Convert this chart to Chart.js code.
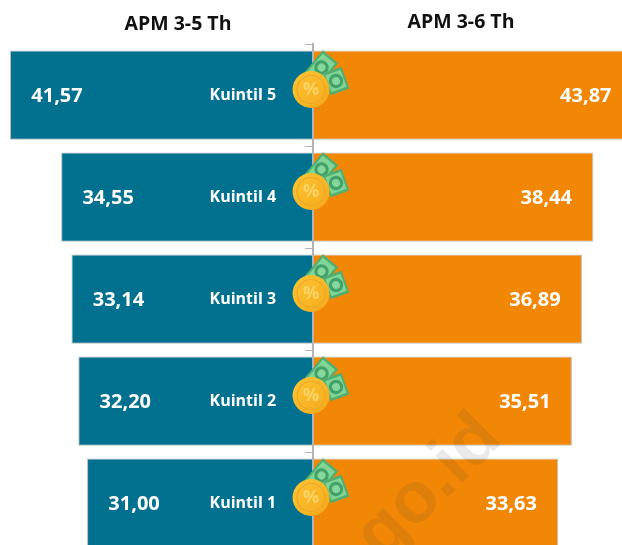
<!DOCTYPE html>
<html><head><meta charset="utf-8">
<script src="https://cdn.jsdelivr.net/npm/chart.js@4"></script>
<style>html,body{margin:0;padding:0;background:#fff;overflow:hidden;width:622px;height:545px}
#w{position:absolute;left:0;top:0;width:680px;height:600px}</style>
</head><body><div id="w"><canvas id="c"></canvas></div>
<script>
const categories=["Kuintil 5","Kuintil 4","Kuintil 3","Kuintil 2","Kuintil 1"];
const apm35=[41.57,34.55,33.14,32.20,31.00];
const apm36=[43.87,38.44,36.89,35.51,33.63];
const seriesTitles=["APM 3-5 Th","APM 3-6 Th"];
const watermark="bps.go.id";
const fmt=v=>Math.abs(v).toFixed(2).replace(".",",");
const FONT='"Open Sans"';
function note(ctx,x,y,w,h,a){
  ctx.save();ctx.translate(x,y);ctx.rotate(a);
  ctx.fillStyle="#4fae70";ctx.fillRect(-w/2,-h/2,w,h);
  ctx.fillStyle="#7fd596";ctx.fillRect(-w/2+2.5,-h/2+2,w-5,h-4);
  ctx.fillStyle="#43a26a";ctx.beginPath();ctx.arc(0,0,h*0.36,0,7);ctx.fill();
  ctx.fillStyle="#86d79c";ctx.beginPath();ctx.arc(0,0,h*0.2,0,7);ctx.fill();
  ctx.restore();
}
function coin(ctx,x,y){
  note(ctx,x+10.5,y-22,28,20,130*Math.PI/180);
  note(ctx,x+25,y-8.5,23,20,70*Math.PI/180);
  const g=ctx.createLinearGradient(x-18,y-18,x+18,y+18);
  g.addColorStop(0,"#fcc633");g.addColorStop(1,"#f5a91a");
  ctx.fillStyle=g;ctx.beginPath();ctx.arc(x,y,18.5,0,7);ctx.fill();
  ctx.strokeStyle="#eda62a";ctx.lineWidth=1.2;ctx.beginPath();ctx.arc(x,y,14,0,7);ctx.stroke();
  ctx.fillStyle="#fbd468";ctx.font='bold 18px '+FONT;ctx.textAlign="center";ctx.textBaseline="middle";
  ctx.fillText("%",x,y);
}
const overlay={id:"overlay",afterDatasetsDraw(chart){
  const ctx=chart.ctx;
  ctx.save();
  ctx.textBaseline="middle";ctx.fillStyle="#fff";ctx.textAlign="center";
  ctx.font='bold 20px '+FONT;
  chart.getDatasetMeta(0).data.forEach((b,i)=>ctx.fillText(fmt(apm35[i]),b.x+47,b.y+1));
  chart.getDatasetMeta(1).data.forEach((b,i)=>ctx.fillText(fmt(apm36[i]),b.x-47,b.y+1));
  ctx.fillStyle="#111";ctx.font='bold 19.5px '+FONT;ctx.textAlign="center";
  ctx.fillText(seriesTitles[0],178,24);
  ctx.fillText(seriesTitles[1],461,22);
  ctx.translate(391,526);ctx.rotate(-Math.PI/4);
  ctx.fillStyle="rgba(60,60,60,0.11)";ctx.font='bold 72px "Liberation Sans"';ctx.textAlign="center";
  ctx.fillText(watermark,-20,0);
  ctx.restore();
},afterDraw(chart){
  const ctx=chart.ctx,xs=chart.scales.x;
  ctx.save();
  chart.getDatasetMeta(0).data.forEach(b=>coin(ctx,xs.getPixelForValue(0)-2,b.y-5.5));
  ctx.restore();
}};
new Chart(document.getElementById("c"),{
  type:"bar",
  data:{labels:categories,datasets:[
    {label:seriesTitles[0],data:apm35.map(v=>-v),backgroundColor:"#02708f",borderColor:"#b9bdc0",borderWidth:1},
    {label:seriesTitles[1],data:apm36,backgroundColor:"#f28705",borderColor:"#b9bdc0",borderWidth:1}
  ]},
  options:{
    indexAxis:"y",responsive:true,maintainAspectRatio:false,animation:false,
    layout:{padding:{left:0,right:0,top:44,bottom:46}},
    datasets:{bar:{barPercentage:0.875,categoryPercentage:1}},
    plugins:{legend:{display:false},tooltip:{enabled:false}},
    scales:{
      x:{type:"linear",display:false,stacked:true,min:-42.94,max:50.34},
      y:{type:"category",stacked:true,offset:true,position:{x:0},
        border:{display:true,color:"#b3b3b3",width:2,z:1},
        grid:{offset:true,drawOnChartArea:false,drawTicks:true,tickLength:7,tickColor:"#b3b3b3",tickWidth:1,z:1},
        ticks:{display:false}},
      y2:{type:"category",axis:"y",labels:categories,offset:true,position:{x:-5.07},
        border:{display:false},grid:{display:false},
        ticks:{color:"#fff",z:1,autoSkip:false,font:{family:FONT,weight:"bold",size:16}}}
    }
  },
  plugins:[overlay]
});
</script></body></html>
